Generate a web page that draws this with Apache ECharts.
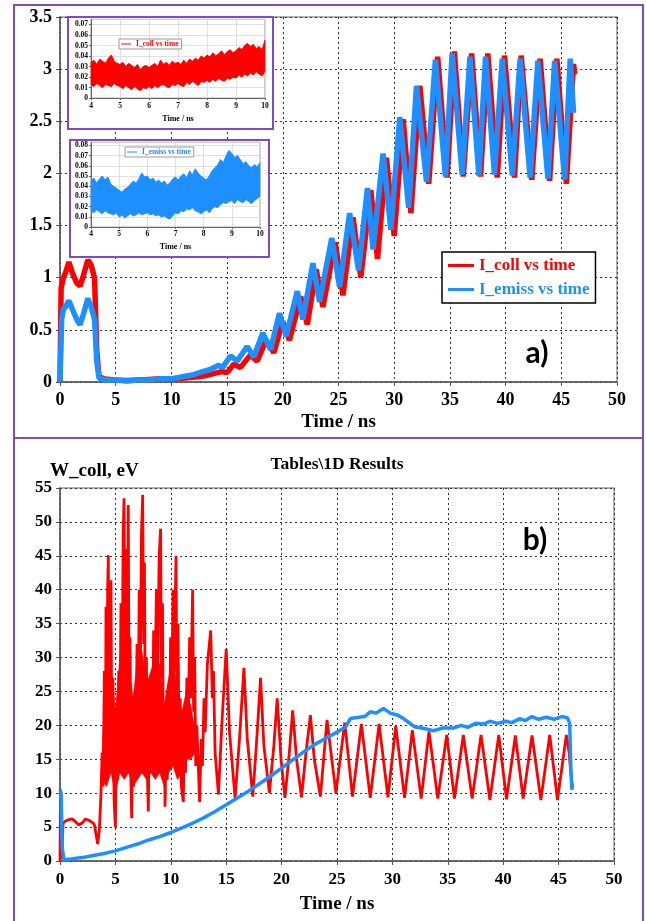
<!DOCTYPE html>
<html><head><meta charset="utf-8">
<script src="https://cdn.jsdelivr.net/npm/echarts@6/dist/echarts.min.js"></script>
<style>
html,body{margin:0;padding:0;background:#fff;}
#main{position:absolute;left:0;top:0;width:646px;height:921px;}
.inset{position:absolute;box-sizing:border-box;border:2px solid #7d4cc0;background:#fff;z-index:5;}
#ins1{left:67px;top:16px;width:207px;height:114px;}
#ins2{left:69px;top:139px;width:201px;height:119px;}
</style></head><body>
<div id="main"></div><div id="ins1" class="inset"></div><div id="ins2" class="inset"></div>
<script>
// ---------- DATA ----------
// Panel a) main: [time ns, current]
const iCollPts = [[0,0],[0.1,0.9],[0.3,1.0],[0.5,1.05],[0.8,1.15],[1.1,1.05],[1.5,0.95],[1.8,0.92],[2.1,1.02],[2.5,1.17],[2.8,1.12],[3.1,1.0],[3.3,0.3],[3.5,0.05],[4,0.03],[5,0.02],[6,0.015],[7,0.02],[8,0.025],[9,0.03],[10,0.03],[11,0.035],[12,0.045],[13,0.06],[13.8,0.08],[14.5,0.1],[15.0,0.09],[15.6,0.17],[16.2,0.14],[17.1,0.26],[17.7,0.2],[18.5,0.4],[19.2,0.28],[20.0,0.58],[20.6,0.4],[21.6,0.82],[22.2,0.55],[23.0,1.08],[23.6,0.72],[24.7,1.34],[25.4,0.83],[26.3,1.58],[27.0,1.0],[27.9,1.84],[28.5,1.18],[29.3,2.15],[30.0,1.4],[30.8,2.52],[31.5,1.62],[32.3,2.84],[33.1,1.9],[33.9,3.12],[34.75,1.96],[35.4,3.17],[36.2,1.97],[36.95,3.15],[37.75,1.97],[38.4,3.15],[39.25,1.96],[39.9,3.13],[40.8,1.96],[41.4,3.13],[42.35,1.94],[43.1,3.1],[43.95,1.93],[44.6,3.1],[45.45,1.9],[46.1,3.05],[46.2,2.95]];
const iEmissPts = [[0,0],[0.15,0.6],[0.3,0.7],[0.5,0.72],[0.8,0.78],[1.1,0.7],[1.5,0.6],[1.8,0.55],[2.1,0.65],[2.5,0.8],[2.8,0.72],[3.1,0.6],[3.3,0.2],[3.5,0.04],[4,0.02],[5,0.02],[6,0.01],[7,0.02],[8,0.02],[9,0.03],[10,0.03],[11,0.05],[12,0.07],[12.8,0.1],[13.5,0.12],[14.2,0.16],[14.6,0.14],[15.3,0.25],[15.9,0.2],[16.8,0.34],[17.4,0.24],[18.2,0.47],[18.9,0.31],[19.7,0.66],[20.3,0.44],[21.3,0.87],[21.8,0.6],[22.7,1.14],[23.3,0.77],[24.4,1.38],[25.1,0.91],[26.0,1.62],[26.8,1.07],[27.6,1.86],[28.1,1.27],[29.0,2.19],[29.7,1.46],[30.5,2.54],[31.3,1.67],[32.0,2.84],[32.9,1.92],[33.7,3.09],[34.6,1.97],[35.2,3.15],[36.1,1.99],[36.8,3.12],[37.6,1.98],[38.2,3.12],[39.0,1.99],[39.7,3.1],[40.6,1.98],[41.3,3.1],[42.2,1.96],[42.9,3.08],[43.8,1.95],[44.4,3.08],[45.3,1.94],[45.8,3.1],[46.1,2.58]];

// Insets (4..10 ns, step 0.1)
const insetTime = [4.0,4.1,4.2,4.3,4.4,4.5,4.6,4.7,4.8,4.9,5.0,5.1,5.2,5.3,5.4,5.5,5.6,5.7,5.8,5.9,6.0,6.1,6.2,6.3,6.4,6.5,6.6,6.7,6.8,6.9,7.0,7.1,7.2,7.3,7.4,7.5,7.6,7.7,7.8,7.9,8.0,8.1,8.2,8.3,8.4,8.5,8.6,8.7,8.8,8.9,9.0,9.1,9.2,9.3,9.4,9.5,9.6,9.7,9.8,9.9,10.0];
const collLow  = [0.013,0.011,0.014,0.012,0.010,0.013,0.012,0.011,0.014,0.012,0.011,0.009,0.012,0.010,0.008,0.011,0.009,0.007,0.010,0.009,0.011,0.009,0.012,0.010,0.012,0.013,0.011,0.010,0.013,0.012,0.014,0.012,0.011,0.015,0.013,0.016,0.014,0.012,0.016,0.015,0.017,0.015,0.018,0.016,0.019,0.017,0.016,0.019,0.018,0.020,0.019,0.022,0.020,0.023,0.021,0.024,0.022,0.025,0.023,0.021,0.026];
const collHigh = [0.034,0.036,0.032,0.037,0.035,0.033,0.038,0.041,0.035,0.033,0.032,0.034,0.030,0.033,0.031,0.029,0.032,0.027,0.030,0.031,0.029,0.031,0.033,0.030,0.036,0.032,0.034,0.031,0.035,0.033,0.034,0.032,0.036,0.033,0.037,0.035,0.038,0.036,0.040,0.038,0.041,0.039,0.043,0.040,0.042,0.045,0.041,0.044,0.046,0.043,0.045,0.048,0.046,0.050,0.052,0.049,0.051,0.047,0.049,0.046,0.055];
const emissLow  = [0.016,0.014,0.017,0.015,0.013,0.016,0.014,0.013,0.012,0.014,0.010,0.012,0.009,0.011,0.013,0.011,0.012,0.014,0.012,0.013,0.014,0.012,0.013,0.011,0.012,0.010,0.011,0.009,0.008,0.011,0.014,0.013,0.016,0.015,0.018,0.017,0.019,0.016,0.015,0.013,0.015,0.017,0.014,0.018,0.020,0.019,0.022,0.024,0.023,0.025,0.026,0.023,0.027,0.025,0.024,0.027,0.025,0.023,0.026,0.028,0.030];
const emissHigh = [0.045,0.048,0.043,0.047,0.050,0.046,0.049,0.042,0.040,0.038,0.036,0.034,0.037,0.039,0.042,0.045,0.043,0.047,0.053,0.049,0.050,0.046,0.048,0.044,0.046,0.043,0.045,0.041,0.043,0.047,0.049,0.046,0.050,0.052,0.048,0.055,0.051,0.057,0.053,0.050,0.048,0.046,0.050,0.055,0.058,0.061,0.066,0.063,0.070,0.075,0.072,0.068,0.070,0.066,0.062,0.064,0.060,0.058,0.061,0.059,0.063];

// Panel b): [time ns, W eV]
const wCollPts = [[0,0],[0.04,9.3],[0.1,7.8],[0.16,0.3],[0.28,5.6],[0.5,5.9],[0.8,6.1],[1.1,6.2],[1.4,5.8],[1.7,5.3],[2.0,5.6],[2.3,6.2],[2.6,6.0],[2.9,5.7],[3.1,5.4],[3.3,3.5],[3.4,2.5],[3.55,4.5],[3.7,10],[3.8,16],[3.9,11],[4.0,28],[4.1,14],[4.15,37.5],[4.22,18],[4.3,40],[4.36,45.1],[4.42,22],[4.5,38],[4.6,41.4],[4.68,15],[4.78,27],[4.88,9],[5.0,5],[5.1,20],[5.2,12],[5.3,28],[5.4,16],[5.5,38],[5.6,24],[5.7,48],[5.78,53.5],[5.88,30],[5.98,46],[6.06,25],[6.16,52.5],[6.24,20],[6.32,33],[6.4,12],[6.47,6.3],[6.56,18],[6.65,11],[6.75,25],[6.85,15],[6.95,32],[7.05,20],[7.15,40],[7.25,28],[7.35,48],[7.46,54],[7.55,32],[7.62,44],[7.7,20],[7.8,30],[7.9,12],[7.97,7.3],[8.05,20],[8.15,13],[8.25,27],[8.35,17],[8.45,34],[8.55,22],[8.7,40],[8.8,27],[8.95,45],[9.08,49],[9.15,27],[9.25,38],[9.33,15],[9.41,22],[9.48,8],[9.58,18],[9.68,12],[9.78,26],[9.88,17],[9.98,33],[10.08,22],[10.2,40],[10.3,28],[10.47,45],[10.55,25],[10.65,35],[10.75,15],[10.85,24],[10.95,11],[11.13,8.7],[11.23,20],[11.33,13],[11.45,27],[11.55,19],[11.7,33],[11.8,24],[11.97,40],[12.06,22],[12.15,30],[12.25,14],[12.35,20],[12.6,8.7],[12.75,18],[12.85,14],[13.0,24],[13.1,19],[13.3,29],[13.6,34],[13.75,24],[13.85,28],[14.0,16],[14.3,9.8],[14.6,20],[15.0,31.3],[15.3,19],[15.8,9.3],[16.2,18],[16.6,28.5],[16.9,18],[17.4,9.5],[17.8,19],[18.1,27],[18.4,17],[18.9,10],[19.3,17],[19.6,24],[19.95,15],[20.3,9.3],[20.7,16],[21.0,22.2],[21.35,15],[21.8,9.4],[22.2,16],[22.6,21.5],[22.95,15],[23.5,9.5],[24.1,20.8],[24.9,10],[25.7,20.4],[26.4,9.5],[27.2,20.2],[28.0,9.3],[28.8,20.2],[29.6,9.4],[30.3,19.9],[31.1,9.3],[31.8,19.3],[32.6,9.2],[33.3,19.1],[34.1,9.2],[34.9,18.6],[35.6,9.2],[36.4,18.6],[37.2,9.2],[38.0,18.6],[38.8,9.0],[39.6,18.6],[40.3,9.1],[41.1,18.5],[41.8,9.2],[42.6,18.5],[43.4,9.0],[44.2,18.6],[44.9,9.0],[45.7,18.6],[45.95,16],[46.1,13],[46.2,11.5]];
const wEmissPts = [[0,10.5],[0.1,10],[0.2,2],[0.35,0.2],[1,0.3],[2,0.5],[3,0.8],[4,1.1],[5,1.5],[6,2.0],[7,2.5],[8,3.1],[9,3.6],[10,4.2],[11,4.9],[12,5.6],[13,6.4],[14,7.3],[15,8.3],[16,9.3],[17,10.3],[18,11.4],[19,12.5],[20,13.7],[21,14.9],[22,16.1],[23,17.2],[24,18.1],[25,19.0],[25.8,19.8],[26.2,21],[27,21.2],[27.5,21.3],[28,22],[28.5,21.8],[29.2,22.5],[29.8,21.8],[30.5,21.5],[31,21],[32,19.8],[33,19.5],[33.7,19.2],[34.5,19.6],[35.5,19.6],[36.2,20],[36.8,19.7],[37.5,20.3],[38.2,20.2],[38.8,20.6],[39.5,20.3],[40.2,20.6],[40.8,20.4],[41.5,21],[42,20.7],[42.6,21.3],[43.2,20.9],[43.9,21.2],[44.6,20.9],[45.3,21.3],[45.8,21.1],[46.0,20.3],[46.1,14],[46.2,10.5],[46.25,11.5]];
// dense-noise envelope of W_coll between 3.8 and 12.2 ns
const bandTime = [3.8,4.2,4.6,5.0,5.4,5.8,6.2,6.6,7.0,7.4,7.8,8.2,8.6,9.0,9.4,9.8,10.2,10.6,11.0,11.4,11.8,12.2];
const bandLow  = [12,11,13,10,13,12,13,11,12,13,12,13,12,13,11,13,14,12,13,15,15,16];
const bandHigh = [16,30,29,22,30,32,29,24,30,31,26,28,30,29,23,27,30,25,22,25,23,19];

// ---------- STYLE ----------
const SERIF = "'Liberation Serif', 'DejaVu Serif', serif";
const RED = '#ff0000', BLUE = '#1e8fff';

function axisBase(gi, min, max, interval, fs, margin) {
  return {
    gridIndex: gi, type: 'value', min: min, max: max, interval: interval,
    axisLine: {show: true, onZero: false, lineStyle: {color: '#555', width: 1.5}},
    axisTick: {show: true, length: 4, lineStyle: {color: '#555'}},
    axisLabel: {color: '#000', fontFamily: SERIF, fontWeight: 'bold', fontSize: fs, margin: margin},
    splitLine: {show: true, lineStyle: {color: '#333', type: [2, 3], width: 1}}
  };
}
const pair = (xs, ys) => xs.map((x, i) => [x, ys[i]]);

// filled band between lo and hi, positioned through the axes (api.coord)
function bandSeries(xs, lo, hi, color, extra) {
  return Object.assign({
    type: 'custom', silent: true, z: 2,
    data: xs.map((x, i) => [x, lo[i], hi[i]]),
    encode: {x: 0, y: [1, 2]},
    renderItem: function (params, api) {
      if (params.dataIndex !== 0) return null;
      const top = xs.map((x, i) => api.coord([x, hi[i]]));
      const bot = xs.map((x, i) => api.coord([x, lo[i]])).reverse();
      return {type: 'polygon', shape: {points: top.concat(bot)}, style: {fill: color, stroke: color, lineWidth: 0.6}};
    }
  }, extra || {});
}

const main = echarts.init(document.getElementById('main'), null, {renderer: 'canvas'});
main.setOption({
  animation: false,
  backgroundColor: '#fff',
  grid: [
    {left: 60, top: 17, width: 557, height: 365, show: true, borderColor: '#999', borderWidth: 1.5},
    {left: 60, top: 488, width: 554, height: 373, show: true, borderColor: '#999', borderWidth: 1.5}
  ],
  xAxis: [
    Object.assign(axisBase(0, 0, 50, 5, 18, 9), {name: 'Time / ns', nameLocation: 'middle', nameGap: 31,
      nameTextStyle: {color: '#000', fontFamily: SERIF, fontWeight: 'bold', fontSize: 19}}),
    Object.assign(axisBase(1, 0, 50, 5, 17, 10), {name: 'Time / ns', nameLocation: 'middle', nameGap: 34,
      nameTextStyle: {color: '#000', fontFamily: SERIF, fontWeight: 'bold', fontSize: 19}})
  ],
  yAxis: [axisBase(0, 0, 3.5, 0.5, 18, 8), axisBase(1, 0, 55, 5, 17, 8)],
  legend: {
    orient: 'vertical', left: 442, top: 252, padding: [3, 6, 3, 6], itemGap: 3,
    backgroundColor: '#fff', borderColor: '#000', borderWidth: 1.5, borderRadius: 0,
    icon: 'rect', itemWidth: 26, itemHeight: 3, selectedMode: false,
    textStyle: {fontFamily: SERIF, fontWeight: 'bold', fontSize: 17, lineHeight: 21},
    data: [{name: 'I_coll vs time', textStyle: {color: RED}}, {name: 'I_emiss vs time', textStyle: {color: BLUE}}]
  },
  series: [
    {name: 'I_coll vs time', type: 'line', xAxisIndex: 0, yAxisIndex: 0, data: iCollPts, showSymbol: false, symbol: 'none',
      color: RED, lineStyle: {color: RED, width: 5.5}, z: 3},
    {name: 'I_emiss vs time', type: 'line', xAxisIndex: 0, yAxisIndex: 0, data: iEmissPts, showSymbol: false, symbol: 'none',
      color: BLUE, lineStyle: {color: BLUE, width: 5.5}, z: 4},
    bandSeries(bandTime, bandLow, bandHigh, RED, {name: 'W_coll band', xAxisIndex: 1, yAxisIndex: 1}),
    {name: 'W_coll', type: 'line', xAxisIndex: 1, yAxisIndex: 1, data: wCollPts, showSymbol: false, symbol: 'none',
      lineStyle: {color: RED, width: 2.8}, z: 3},
    {name: 'W_emiss', type: 'line', xAxisIndex: 1, yAxisIndex: 1, data: wEmissPts, showSymbol: false, symbol: 'none',
      lineStyle: {color: BLUE, width: 3.5}, z: 4}
  ],
  graphic: [
    {type: 'rect', shape: {x: 14, y: 5, width: 629, height: 433}, style: {fill: 'none', stroke: '#7d4cc0', lineWidth: 2}, z: 10},
    {type: 'rect', shape: {x: 14, y: 438, width: 629, height: 495}, style: {fill: 'none', stroke: '#7d4cc0', lineWidth: 2}, z: 10},
    {type: 'text', x: 537, y: 353, style: {text: 'a)', font: "bold 30px Lato, 'Open Sans', sans-serif", fill: '#000', textAlign: 'center', textVerticalAlign: 'middle'}, z: 10},
    {type: 'text', x: 535, y: 540, style: {text: 'b)', font: "bold 30px Lato, 'Open Sans', sans-serif", fill: '#000', textAlign: 'center', textVerticalAlign: 'middle'}, z: 10},
    {type: 'text', x: 337, y: 464, style: {text: 'Tables\\1D Results', font: "bold 17.5px " + SERIF, fill: '#000', textAlign: 'center', textVerticalAlign: 'middle'}, z: 10},
    {type: 'text', x: 50, y: 471, style: {text: 'W_coll, eV', font: "bold 19px " + SERIF, fill: '#000', textAlign: 'left', textVerticalAlign: 'middle'}, z: 10}
  ]
});

function insetOption(gridPos, ymax, lo, hi, name, color, legendPos, gap, lblMargin) {
  const ax = (min, max, interval) => ({
    type: 'value', min: min, max: max, interval: interval,
    axisLine: {show: true, onZero: false, lineStyle: {color: '#666', width: 1}},
    axisTick: {show: true, length: 2, lineStyle: {color: '#666'}},
    axisLabel: {color: '#000', fontFamily: SERIF, fontWeight: 'bold', fontSize: 7.5, margin: lblMargin, showMaxLabel: false},
    splitLine: {show: true, lineStyle: {color: '#d8d8d8', width: 0.8}}
  });
  const xa = ax(4, 10, 1);
  xa.axisLabel.showMaxLabel = true;
  xa.name = 'Time / ns'; xa.nameLocation = 'middle'; xa.nameGap = gap;
  xa.nameTextStyle = {color: '#000', fontFamily: SERIF, fontWeight: 'bold', fontSize: 8};
  const ya = ax(0, ymax, 0.01);
  ya.axisLabel.margin = 3;
  return {
    animation: false, backgroundColor: '#fff',
    grid: Object.assign({show: true, borderColor: '#999', borderWidth: 1}, gridPos),
    xAxis: xa, yAxis: ya,
    legend: Object.assign({
      orient: 'vertical', padding: [1, 3, 1, 2], backgroundColor: '#fff', borderColor: '#999', borderWidth: 1, borderRadius: 0,
      icon: 'rect', itemWidth: 10, itemHeight: 1, itemGap: 2, selectedMode: false,
      textStyle: {color: color, fontFamily: SERIF, fontWeight: 'bold', fontSize: 7.5},
      data: [name]
    }, legendPos),
    series: [
      bandSeries(insetTime, lo, hi, color, {name: name + ' band'}),
      {name: name, type: 'line', data: pair(insetTime, hi), showSymbol: false, symbol: 'none', color: color,
        lineStyle: {color: color, width: 0.8}, z: 3},
      {name: 'low', type: 'line', data: pair(insetTime, lo), showSymbol: false, symbol: 'none',
        lineStyle: {color: color, width: 0.8}, z: 3}
    ]
  };
}
echarts.init(document.getElementById('ins1')).setOption(
  insetOption({left: 22, top: 1.3, width: 174, height: 84}, 0.075, collLow, collHigh, 'I_coll vs time', RED, {left: 50, top: 21}, 15, 4));
echarts.init(document.getElementById('ins2')).setOption(
  insetOption({left: 20, top: 1.3, width: 169, height: 91.7}, 0.083, emissLow, emissHigh, 'I_emiss vs time', BLUE, {left: 54, top: 6}, 13, 3));
</script>
</body></html>
